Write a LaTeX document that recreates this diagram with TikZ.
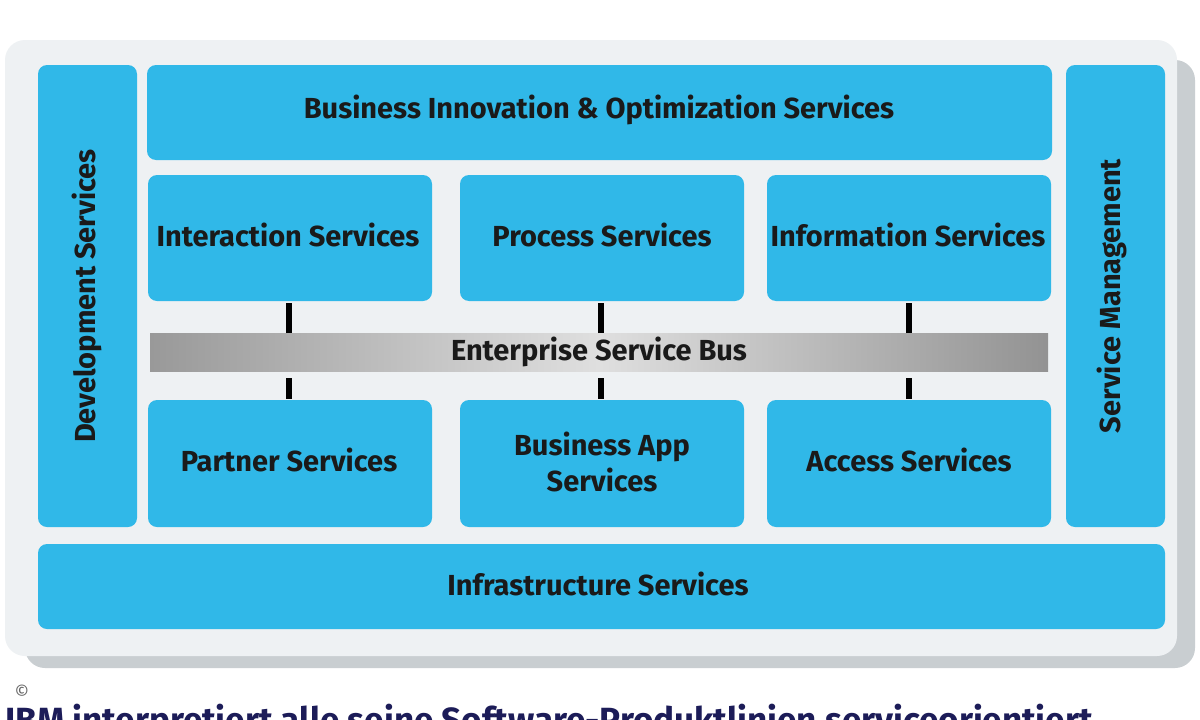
\documentclass[tikz,border=0pt]{standalone}
\usepackage{fontspec}
\setmainfont{Fira Sans}
\usetikzlibrary{positioning}
\definecolor{svcblue}{HTML}{30B8E8}
\definecolor{panel}{HTML}{EEF1F3}
\definecolor{shadowc}{HTML}{C9CED1}
\definecolor{txt}{HTML}{1A1A1A}
\definecolor{capc}{HTML}{1C1C58}
\tikzset{
  svc/.style={fill=svcblue, draw=none, rounded corners=9pt, font=\fontsize{29}{36}\selectfont\bfseries, text=txt, align=center},
  busbar/.style={line width=6pt, draw=black},
}
\begin{document}
\begin{tikzpicture}[x=1pt,y=-1pt]
\useasboundingbox (0,0) rectangle (1200,720);
\fill[white] (0,0) rectangle (1200,720);
% shadow and panel
\fill[shadowc, rounded corners=20pt] (25,60) rectangle (1195,668);
\fill[panel, rounded corners=20pt] (5,40) rectangle (1177,656);
% boxes
\path[svc] (38,65) rectangle (137,527);
\node[svc, rotate=90, fill=none] (dev) at (87,296) {Development Services};
\path[svc] (1066,65) rectangle (1165,527);
\node[svc, rotate=90, fill=none] (sm) at (1112,296) {Service Management};
\path[svc] (147,65) rectangle (1052,160);
\node[svc, fill=none] (bio) at (599,110) {Business Innovation \& Optimization Services};
\path[svc] (148,175) rectangle (432,301);
\node[svc, fill=none] (inter) at (288,235) {Interaction Services};
\path[svc] (460,175) rectangle (744,301);
\node[svc, fill=none] (proc) at (602,235) {Process Services};
\path[svc] (767,175) rectangle (1051,301);
\node[svc, fill=none] (info) at (908,235) {Information Services};
\path[svc] (148,400) rectangle (432,527);
\node[svc, fill=none] (part) at (289,460) {Partner Services};
\path[svc] (460,400) rectangle (744,527);
\node[svc, fill=none] (bapp) at (602,462) {Business App\\Services};
\path[svc] (767,400) rectangle (1051,527);
\node[svc, fill=none] (acc) at (909,460) {Access Services};
\path[svc] (38,544) rectangle (1165,629);
\node[svc, fill=none] (infra) at (598,584) {Infrastructure Services};
% ESB
\shade[left color=gray!80, right color=gray!85, middle color=gray!25] (150,333) rectangle (1048,371);
\node[font=\fontsize{29}{36}\selectfont\bfseries, text=txt] (esb) at (599,352) {Enterprise Service Bus};
% connectors
\coordinate (e1t) at (289,333); \coordinate (e1b) at (289,378);
\coordinate (e2t) at (601,333); \coordinate (e2b) at (601,378);
\coordinate (e3t) at (909,333); \coordinate (e3b) at (909,378);
\draw[busbar] (e1t) -- (e1t |- 0,303);
\draw[busbar] (e2t) -- (e2t |- 0,303);
\draw[busbar] (e3t) -- (e3t |- 0,303);
\draw[busbar] (e1b) -- (e1b |- 0,399);
\draw[busbar] (e2b) -- (e2b |- 0,399);
\draw[busbar] (e3b) -- (e3b |- 0,399);
% caption
\node[font=\fontsize{18}{20}\selectfont, text=gray!80!black, inner sep=0] (copy) at (22,692) {©};
\node[anchor=north west, font=\fontsize{35}{40}\selectfont\bfseries, text=capc, inner sep=0] (cap) at (5,704) {IBM interpretiert alle seine Software-Produktlinien serviceorientiert};
\end{tikzpicture}
\end{document}
